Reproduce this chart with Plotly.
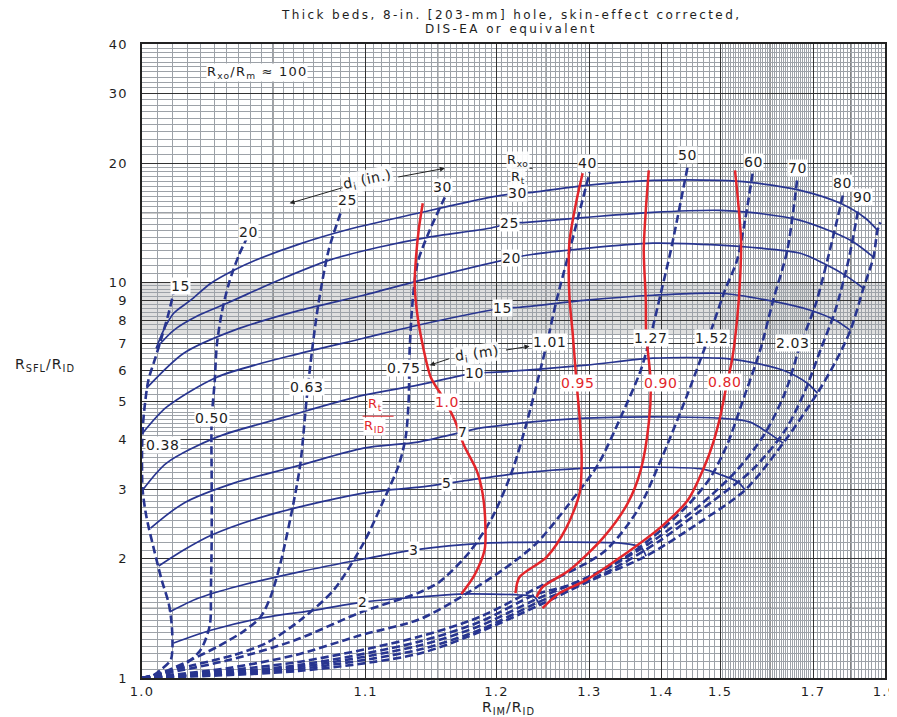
import math
import numpy as np
import plotly.graph_objects as go

# ---------------- data (x = R_IM/R_ID, y = R_SFL/R_ID) ----------------
# Solid blue curves: Rxo/Rt
rt2_x = [1.0103, 1.0241, 1.0448, 1.0712, 1.0981, 1.135, 1.1674, 1.2222, 1.2376, 1.2428]
rt2_y = [1.226, 1.322, 1.418, 1.485, 1.555, 1.601, 1.630, 1.621, 1.601, 1.529]
rt3_x = [1.0089, 1.0192, 1.035, 1.0624, 1.0987, 1.1314, 1.1899, 1.257, 1.3409, 1.3691, 1.377]
rt3_y = [1.468, 1.592, 1.708, 1.852, 1.998, 2.105, 2.192, 2.205, 2.192, 2.142, 2.033]
rt5_x = [1.0053, 1.0138, 1.0241, 1.048, 1.0987, 1.1424, 1.17, 1.2222, 1.2961, 1.3869, 1.469, 1.5034, 1.5341, 1.5481]
rt5_y = [1.918, 2.105, 2.297, 2.58, 2.932, 3.054, 3.145, 3.294, 3.391, 3.41, 3.372, 3.255, 3.127, 2.984]
rt7_x = [1.0027, 1.0138, 1.0329, 1.0634, 1.0987, 1.135, 1.17, 1.1846, 1.257, 1.3409, 1.4998, 1.5584, 1.5941, 1.6295]
rt7_y = [2.393, 2.766, 3.108, 3.451, 3.809, 3.945, 4.181, 4.279, 4.482, 4.561, 4.535, 4.431, 4.181, 3.922]
rt10_x = [1.0002, 1.0079, 1.0261, 1.0555, 1.0987, 1.135, 1.1802, 1.1999, 1.2961, 1.3869, 1.4998, 1.5584, 1.6295, 1.6861, 1.7109]
rt10_y = [2.984, 3.491, 4.061, 4.561, 5.184, 5.495, 5.891, 5.926, 6.171, 6.428, 6.428, 6.281, 5.995, 5.558, 5.245]
rt15_x = [1.0002, 1.0079, 1.0261, 1.0555, 1.0987, 1.135, 1.2056, 1.2222, 1.2961, 1.3869, 1.4998, 1.5941, 1.6934, 1.7574, 1.7984]
rt15_y = [4.156, 4.834, 5.757, 6.465, 7.221, 7.788, 8.596, 8.647, 9.01, 9.273, 9.38, 9.01, 8.5, 8.017, 7.56]
rt20_x = [1.0014, 1.0138, 1.0329, 1.0634, 1.0987, 1.1424, 1.2143, 1.2293, 1.2961, 1.3869, 1.4998, 1.5584, 1.6691, 1.7261, 1.7844, 1.8354]
rt20_y = [5.396, 6.617, 7.56, 8.5, 9.273, 10.23, 11.5, 11.7, 12.18, 12.55, 12.41, 12.26, 11.84, 11.17, 10.41, 9.66]
rt25_x = [1.0045, 1.0103, 1.0192, 1.0301, 1.0527, 1.0783, 1.1082, 1.1424, 1.1935, 1.2123, 1.2293, 1.2961, 1.3869, 1.4998, 1.5584, 1.6691, 1.7984, 1.8649]
rt25_y = [6.813, 7.56, 8.25, 8.85, 10.12, 11.36, 12.26, 12.99, 13.69, 14.09, 14.17, 14.59, 15.02, 15.2, 15.02, 14.34, 12.77, 11.57]
rt30_x = [1.0045, 1.0069, 1.0103, 1.0163, 1.0238, 1.0329, 1.0421, 1.0624, 1.09, 1.135, 1.1935, 1.2202, 1.2355, 1.2961, 1.3869, 1.4998, 1.5584, 1.6691, 1.7709, 1.8413, 1.877]
rt30_y = [6.813, 7.56, 8.35, 9.01, 9.94, 10.72, 11.36, 12.47, 13.61, 14.94, 16.39, 16.78, 16.88, 17.58, 18.09, 18.09, 17.88, 17.07, 15.83, 14.51, 13.53]

# Dashed blue curves: invasion diameter d_i
di15_x = [1.0, 1.0027, 1.0059, 1.0093, 1.0099, 1.0096, 1.0086, 1.0063, 1.0036, 1.0014, 1.0002, 1.0, 1.0002, 1.0007, 1.002, 1.0043, 1.0063, 1.0086, 1.0103]
di15_y = [1.0, 1.0058, 1.0476, 1.11, 1.1975, 1.377, 1.547, 1.768, 2.142, 2.55, 2.984, 3.615, 4.23, 4.75, 5.656, 6.465, 7.263, 8.35, 9.435]
di20_x = [1.0, 1.0069, 1.0138, 1.0199, 1.0234, 1.0238, 1.0241, 1.0241, 1.0241, 1.0253, 1.0261, 1.028, 1.0309, 1.035, 1.0384]
di20_y = [1.0, 1.0295, 1.078, 1.177, 1.361, 1.668, 2.231, 3.162, 4.482, 5.656, 6.933, 8.35, 9.94, 11.7, 12.92]
di25_x = [1.0, 1.0053, 1.0155, 1.0269, 1.0371, 1.0444, 1.0489, 1.0536, 1.0599, 1.0634, 1.0665, 1.0696, 1.0728, 1.0783, 1.0856]
di25_y = [1.0, 1.0235, 1.104, 1.205, 1.314, 1.426, 1.601, 1.951, 2.766, 3.491, 5.035, 6.853, 8.85, 12.04, 15.2]
di30_x = [1.0, 1.0174, 1.0329, 1.0471, 1.0634, 1.0811, 1.0987, 1.1115, 1.1216, 1.1264, 1.1285, 1.1292, 1.1314, 1.135, 1.1439, 1.1556]
di30_y = [1.0, 1.078, 1.143, 1.226, 1.401, 1.668, 2.192, 2.816, 3.451, 4.061, 5.035, 6.734, 9.01, 11.23, 13.53, 16.39]
di40_x = [1.0, 1.0309, 1.0609, 1.0974, 1.135, 1.1512, 1.1759, 1.1962, 1.2152, 1.2293, 1.2428, 1.2515, 1.2614, 1.2763, 1.3004]
di40_y = [1.0, 1.11, 1.247, 1.468, 1.639, 1.747, 2.081, 2.55, 3.352, 4.405, 5.891, 7.138, 9.01, 12.04, 18.96]
di50_x = [1.0, 1.0309, 1.0609, 1.0974, 1.135, 1.1604, 1.2056, 1.2397, 1.2763, 1.3105, 1.3409, 1.3691, 1.3839, 1.3992, 1.4149, 1.4429]
di50_y = [1.0, 1.06, 1.143, 1.284, 1.401, 1.547, 1.874, 2.192, 2.766, 3.451, 4.561, 5.995, 7.348, 9.38, 12.04, 19.75]
di60_x = [1.0, 1.0624, 1.135, 1.1846, 1.2397, 1.3182, 1.3647, 1.3992, 1.4429, 1.4815, 1.509, 1.5322, 1.5481, 1.5644]
di60_y = [1.0, 1.098, 1.269, 1.426, 1.687, 2.081, 2.656, 3.552, 5.245, 7.433, 9.546, 11.36, 14.34, 19.18]
di70_x = [1.0, 1.0624, 1.135, 1.1846, 1.2397, 1.2763, 1.3409, 1.3869, 1.4429, 1.4815, 1.5128, 1.544, 1.5792, 1.6072, 1.6387, 1.662]
di70_y = [1.0, 1.078, 1.233, 1.385, 1.630, 1.717, 1.986, 2.27, 2.734, 3.2, 3.877, 5.035, 6.734, 9.01, 12.04, 18.3]
di80_x = [1.0, 1.0624, 1.135, 1.1846, 1.2397, 1.3182, 1.3869, 1.4637, 1.5322, 1.5898, 1.6341, 1.6691, 1.7059, 1.7364, 1.779]
di80_y = [1.0, 1.066, 1.205, 1.353, 1.583, 1.874, 2.218, 2.734, 3.352, 4.156, 5.275, 6.933, 8.75, 11.36, 16.78]
di90_x = [1.0, 1.0624, 1.135, 1.1846, 1.2397, 1.3273, 1.3992, 1.4815, 1.5623, 1.6341, 1.6812, 1.7185, 1.7574, 1.7929, 1.821]
di90_y = [1.0, 1.054, 1.177, 1.322, 1.547, 1.874, 2.231, 2.766, 3.352, 4.23, 5.337, 6.734, 8.5, 11.36, 15.38]
dimax_x = [1.0, 1.0624, 1.135, 1.1846, 1.2428, 1.3004, 1.377, 1.4637, 1.5481, 1.6295, 1.7109, 1.7574, 1.7984, 1.8354, 1.8649, 1.877, 1.8861]
dimax_y = [1.0, 1.0415, 1.15, 1.307, 1.529, 1.758, 2.033, 2.477, 2.984, 3.922, 5.245, 6.281, 7.56, 9.66, 11.57, 13.53, 14.17]

# Red curves: Rt/RID
rr100_x = [1.1387, 1.1357, 1.1336, 1.1328, 1.1343, 1.1372, 1.1447, 1.154, 1.1636, 1.1711, 1.182, 1.1873, 1.1899, 1.1891, 1.1802, 1.169]
rr100_y = [15.83, 13.53, 11.36, 9.94, 8.5, 7.348, 5.757, 5.124, 4.482, 3.877, 3.352, 2.932, 2.406, 2.105, 1.82, 1.630]
rr095_x = [1.2918, 1.2845, 1.2763, 1.2752, 1.2763, 1.2799, 1.2845, 1.2881, 1.2906, 1.2881, 1.2728, 1.2504, 1.2222, 1.2182]
rr095_y = [18.85, 16.11, 12.77, 10.72, 9.01, 7.433, 5.558, 4.561, 3.552, 2.932, 2.406, 2.021, 1.799, 1.639]
rr090_x = [1.3809, 1.3765, 1.3735, 1.3765, 1.377, 1.3839, 1.3809, 1.3691, 1.3506, 1.3182, 1.2763, 1.246, 1.2397]
rr090_y = [19.18, 15.2, 12.04, 9.01, 7.433, 5.558, 4.405, 3.352, 2.766, 2.27, 1.874, 1.697, 1.601]
rr080_x = [1.5282, 1.5341, 1.5401, 1.5381, 1.5322, 1.5224, 1.5128, 1.4998, 1.4869, 1.4725, 1.4429, 1.3992, 1.3409, 1.2961, 1.2648, 1.246]
rr080_y = [19.18, 16.11, 12.77, 10.12, 8.017, 6.353, 5.558, 4.561, 3.922, 3.451, 2.816, 2.406, 2.021, 1.768, 1.639, 1.502]

# Tick labels
x_ticks = [1.0, 1.1, 1.2, 1.3, 1.4, 1.5, 1.7, 1.9]
x_tick_text = ["1.0", "1.1", "1.2", "1.3", "1.4", "1.5", "1.7", "1.9"]
y_ticks = [1, 2, 3, 4, 5, 6, 7, 8, 9, 10, 20, 30, 40]
y_tick_text = ["1", "2", "3", "4", "5", "6", "7", "8", "9", "10", "20", "30", "40"]
x_heavy_extra = [1.05, 1.15, 1.25, 1.6, 1.8]
y_heavy_extra = [1.5, 2.5, 15]

# Labels on curves
rxo_rt_labels = [("30", 1.2202, 16.78), ("25", 1.2123, 14.09), ("20", 1.2143, 11.5),
                 ("15", 1.2056, 8.596), ("10", 1.1802, 5.891), ("7", 1.17, 4.181),
                 ("5", 1.1572, 3.11), ("3", 1.1321, 2.105), ("2", 1.0981, 1.555)]
di_m_labels = [("0.38", 1.0066, 3.877), ("0.50", 1.0241, 4.535), ("0.63", 1.0665, 5.43),
               ("0.75", 1.125, 6.066), ("1.01", 1.2536, 7.056), ("1.27", 1.3839, 7.221),
               ("1.52", 1.4851, 7.221), ("2.03", 1.6523, 7.015)]
di_in_labels = [("15", 1.0125, 9.77), ("20", 1.0393, 13.38), ("25", 1.0889, 16.11),
                ("30", 1.154, 17.38), ("40", 1.298, 19.98), ("50", 1.4429, 20.93),
                ("60", 1.5644, 20.1), ("70", 1.662, 19.41), ("80", 1.7763, 17.78),
                ("90", 1.8325, 16.39)]
rt_rid_labels = [("1.0", 1.1572, 4.977), ("0.95", 1.2857, 5.558), ("0.90", 1.3992, 5.558),
                 ("0.80", 1.509, 5.59)]
title_lines = ["Thick beds, 8-in. [203-mm] hole, skin-effect corrected,", "DIS-EA or equivalent"]

# ---------------- drawing ----------------
FONT = "DejaVu Sans, Liberation Sans, Arial"
BLUE = "#283590"
RED = "#e2262b"
TXT = "#1e1e1e"
HEAVY = "#333333"


def X(arr):
    return [round(v - 0.9, 6) for v in arr]


def ax_(v):
    return math.log10(v - 0.9)


def ay_(v):
    return math.log10(v)


def sp(text, ls=1.0):
    return "<span style='letter-spacing:%.1fpx'>%s</span>" % (ls, text)


fig = go.Figure()

dashed = [(di15_x, di15_y), (di20_x, di20_y), (di25_x, di25_y), (di30_x, di30_y),
          (di40_x, di40_y), (di50_x, di50_y), (di60_x, di60_y), (di70_x, di70_y),
          (di80_x, di80_y), (di90_x, di90_y), (dimax_x, dimax_y)]
for xs, ys in dashed:
    fig.add_trace(go.Scatter(x=X(xs), y=ys, mode="lines",
                             line=dict(color=BLUE, width=2.6, dash="8px,4px", shape="spline", smoothing=0.8),
                             hoverinfo="skip"))

solid = [(rt2_x, rt2_y), (rt3_x, rt3_y), (rt5_x, rt5_y), (rt7_x, rt7_y), (rt10_x, rt10_y),
         (rt15_x, rt15_y), (rt20_x, rt20_y), (rt25_x, rt25_y), (rt30_x, rt30_y)]
for xs, ys in solid:
    fig.add_trace(go.Scatter(x=X(xs), y=ys, mode="lines",
                             line=dict(color=BLUE, width=1.7, shape="spline", smoothing=0.8),
                             hoverinfo="skip"))

reds = [(rr100_x, rr100_y), (rr095_x, rr095_y), (rr090_x, rr090_y), (rr080_x, rr080_y)]
for xs, ys in reds:
    fig.add_trace(go.Scatter(x=X(xs), y=ys, mode="lines",
                             line=dict(color=RED, width=2.5, shape="spline", smoothing=0.8),
                             hoverinfo="skip"))

ann = []


def lab(text, x, y, color=TXT, size=14, bg="white", angle=0, ls=0.6):
    ann.append(dict(x=ax_(x), y=ay_(y), xref="x", yref="y", text=sp(text, ls), showarrow=False,
                    font=dict(family=FONT, size=size, color=color), bgcolor=bg,
                    borderpad=0, textangle=angle))


for t, x, y in rxo_rt_labels + di_m_labels + di_in_labels:
    lab(t, x, y)
for t, x, y in rt_rid_labels:
    lab(t, x, y, color=RED)

lab("R<sub>xo</sub>/R<sub>m</sub> ≈ 100", 1.0426, 33.9, size=13, ls=1.2)
lab("R<sub>xo</sub>", 1.2202, 20.3, size=13, bg="rgba(255,255,255,0.9)")
lab("R<sub>t</sub>", 1.2202, 18.35, size=13, bg="rgba(255,255,255,0.9)")
lab("R<sub>t</sub>", 1.1056, 4.90, color=RED, size=13)
lab("R<sub>ID</sub>", 1.1056, 4.33, color=RED, size=13)
lab("d<sub>i</sub> (m)", 1.1828, 6.578, size=14, bg="rgba(255,255,255,0.85)", angle=-8)

# d_i (in.) text carries the left arrow; the other arrows are plain
ann.append(dict(x=ax_(1.058), y=ay_(15.83), xref="x", yref="y", text=sp("d<sub>i</sub> (in.)", 0.6),
                showarrow=True, ax=78, ay=-23, arrowhead=2, arrowsize=1, arrowwidth=1,
                arrowcolor="#222", textangle=-12, bgcolor="rgba(255,255,255,0.85)",
                font=dict(family=FONT, size=14, color=TXT)))
for (hx, hy, dx, dy) in [(1.1556, 19.41, -48, 9), (1.1439, 6.171, 21, -7), (1.2323, 6.891, -25, 4)]:
    ann.append(dict(x=ax_(hx), y=ay_(hy), xref="x", yref="y", text="", showarrow=True,
                    ax=dx, ay=dy, arrowhead=2, arrowsize=1, arrowwidth=1, arrowcolor="#222"))

# title (two lines) and axis titles; plot area spans 743 x 634 px
for line, ypos in zip(title_lines, [1.0464, 1.0237]):
    ann.append(dict(x=0.497, y=ypos, xref="paper", yref="paper", showarrow=False,
                    text=sp(line, 2.4), font=dict(family=FONT, size=12, color=TXT),
                    yanchor="middle"))
ann.append(dict(x=-0.1306, y=0.4937, xref="paper", yref="paper", showarrow=False, xanchor="center",
                text=sp("R<sub>SFL</sub>/R<sub>ID</sub>", 1.0), font=dict(family=FONT, size=14, color=TXT)))
ann.append(dict(x=0.4926, y=-0.0473, xref="paper", yref="paper", showarrow=False, yanchor="middle",
                xanchor="center",
                text=sp("R<sub>IM</sub>/R<sub>ID</sub>", 1.0), font=dict(family=FONT, size=14, color=TXT)))

shapes = [
    dict(type="rect", xref="paper", x0=0, x1=1, yref="y", y0=7.4, y1=10.0,
         fillcolor="rgba(110,110,110,0.22)", line=dict(width=0), layer="below"),
    dict(type="line", xref="x", yref="y", x0=1.2143 - 0.9, x1=1.2355 - 0.9, y0=19.41, y1=19.41,
         line=dict(color="#222", width=1)),
    dict(type="line", xref="x", yref="y", x0=1.0981 - 0.9, x1=1.1181 - 0.9, y0=4.587, y1=4.587,
         line=dict(color=RED, width=1)),
]
for v in x_heavy_extra:
    shapes.append(dict(type="line", xref="x", yref="paper", x0=v - 0.9, x1=v - 0.9, y0=0, y1=1,
                       line=dict(color=HEAVY, width=1.2), layer="between"))
for v in y_heavy_extra:
    shapes.append(dict(type="line", xref="paper", yref="y", x0=0, x1=1, y0=v, y1=v,
                       line=dict(color=HEAVY, width=1.2), layer="between"))

fine_x = np.round(np.concatenate([np.arange(1.0, 1.3, 0.005), np.arange(1.3, 1.5, 0.01),
                                  np.arange(1.5, 1.7, 0.005), np.arange(1.7, 1.9001, 0.01)]), 4)
fine_y = np.round(np.concatenate([np.arange(1, 2, 0.05), np.arange(2, 5, 0.1), np.arange(5, 10, 0.2),
                                  np.arange(10, 20, 0.5), np.arange(20, 40.01, 1)]), 4)

# the page adds an 8 px body margin, so the figure is 8 px smaller than the window
fig.update_layout(
    width=889, height=709, margin=dict(l=134, r=12, t=36, b=39, autoexpand=False),
    paper_bgcolor="white", plot_bgcolor="white", showlegend=False,
    annotations=ann, shapes=shapes,
    xaxis=dict(type="log", range=[-1, 0], tickmode="array", automargin=False,
               tickvals=X(x_ticks), ticktext=[sp(t, 1.2) for t in x_tick_text],
               ticklabeloverflow="allow",
               showgrid=True, gridcolor=HEAVY, gridwidth=1.2, ticks="",
               minor=dict(tickmode="array", tickvals=X(fine_x), showgrid=True,
                          gridcolor="#9da2a8", gridwidth=0.8, ticks=""),
               showline=True, mirror=True, linecolor="#222", linewidth=1.5, zeroline=False,
               tickfont=dict(family=FONT, size=13, color=TXT), ticklabelstandoff=1),
    yaxis=dict(type="log", range=[0, math.log10(40)], tickmode="array", automargin=False,
               tickvals=y_ticks, ticktext=[sp(t, 1.2) for t in y_tick_text],
               ticklabeloverflow="allow",
               showgrid=True, gridcolor=HEAVY, gridwidth=1.2, ticks="",
               minor=dict(tickmode="array", tickvals=list(fine_y), showgrid=True,
                          gridcolor="#9da2a8", gridwidth=0.8, ticks=""),
               showline=True, mirror=True, linecolor="#222", linewidth=1.5, zeroline=False,
               tickfont=dict(family=FONT, size=13, color=TXT), ticklabelstandoff=10),
)

fig.write_html("out.html")
